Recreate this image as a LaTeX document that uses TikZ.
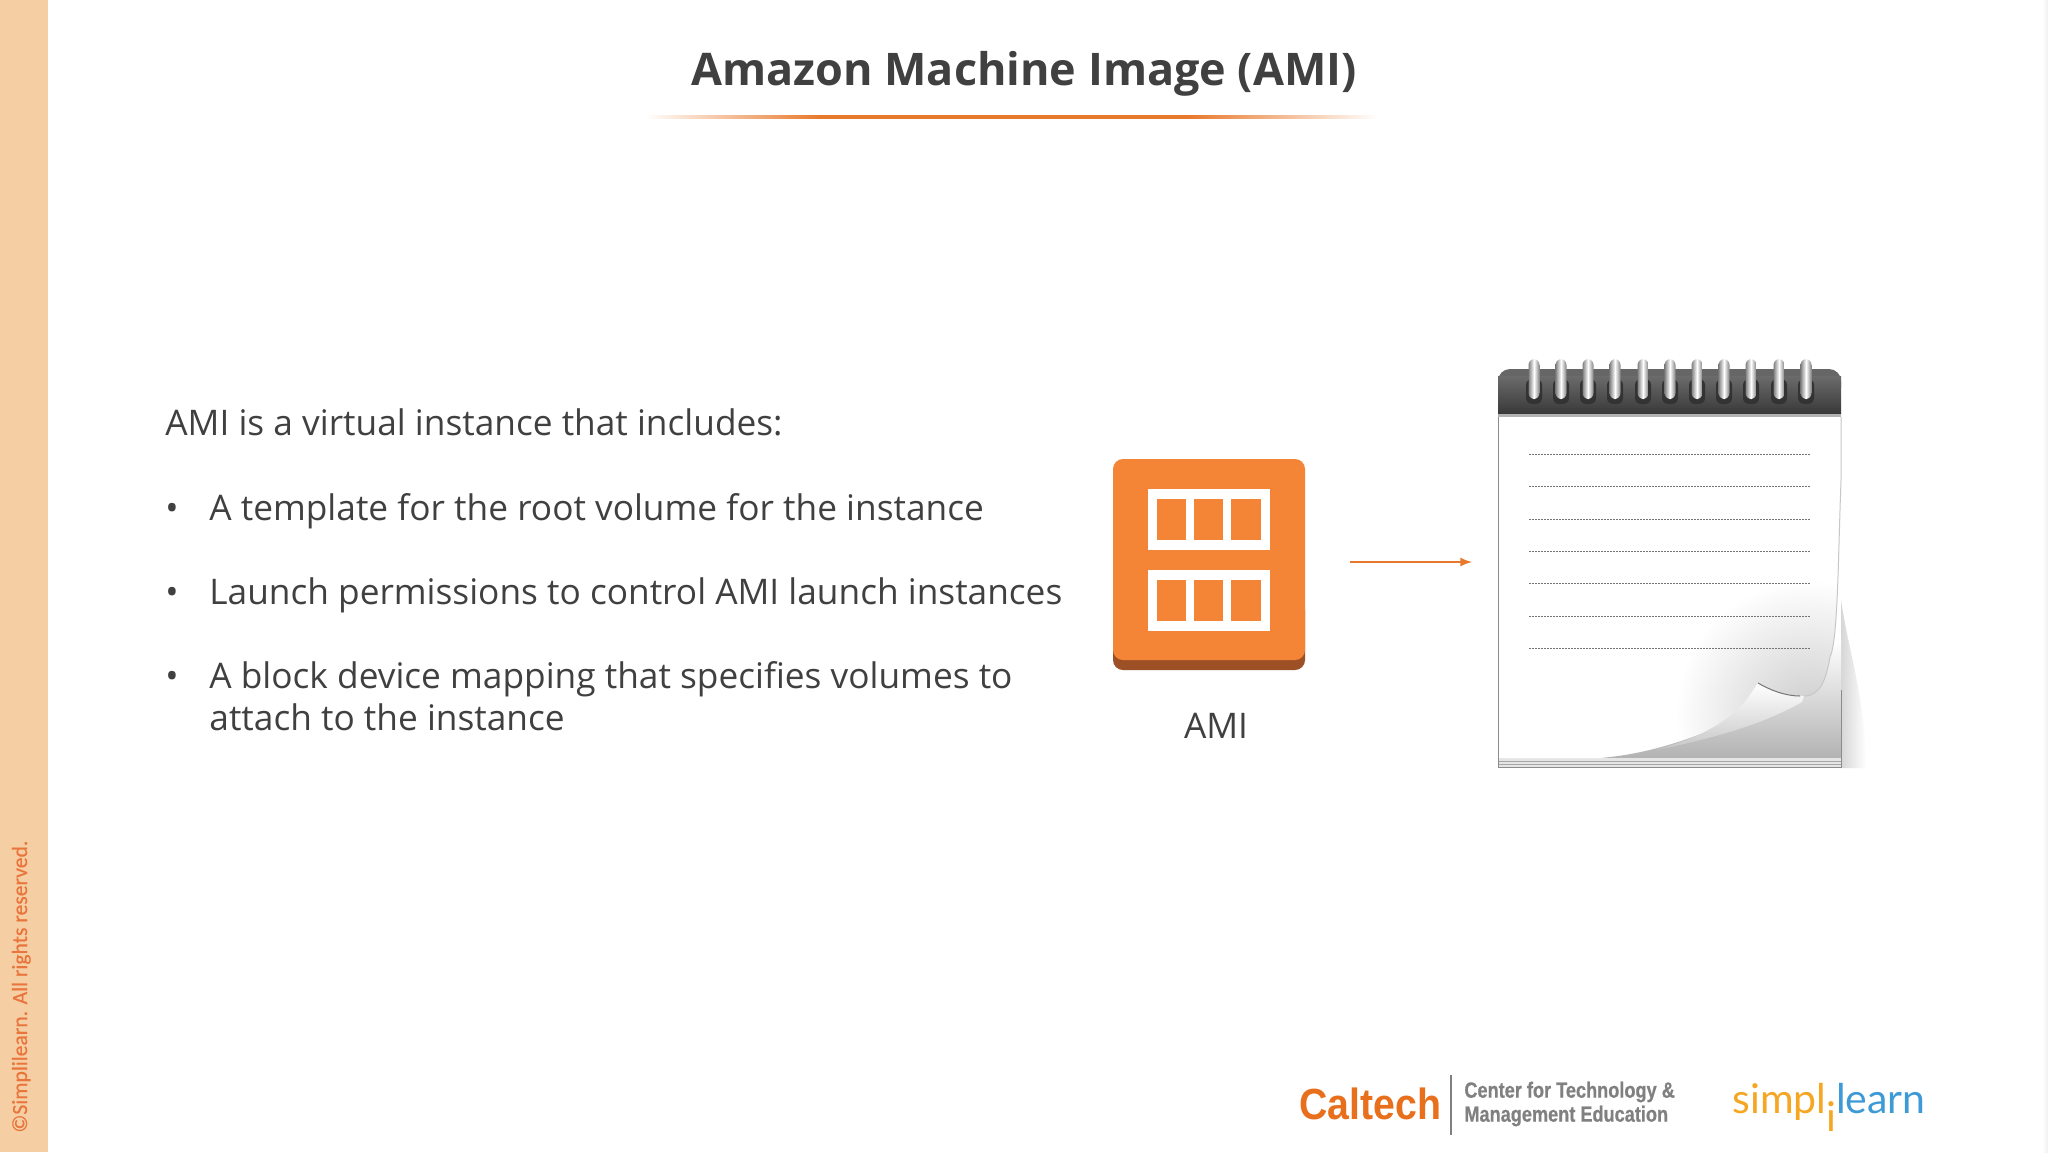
\documentclass[tikz,border=0pt]{standalone}
\usepackage{fontspec}
\setmainfont{Open Sans}
\newfontfamily\copyfont[FakeBold=0.4]{Carlito}
\newfontfamily\narrowfont[FakeStretch=0.825,FakeBold=0.6]{Liberation Sans}
\newfontfamily\caltechfont[FakeStretch=0.9]{Liberation Sans}
\newfontfamily\simplifont{Lato}
\usetikzlibrary{arrows}
\definecolor{bandorange}{HTML}{F5CFA3}
\definecolor{copyorange}{HTML}{E9743C}
\definecolor{ruleorange}{HTML}{E8782B}
\definecolor{amiorange}{HTML}{F58536}
\definecolor{amibrown}{HTML}{9D5025}
\definecolor{bodygray}{HTML}{404040}
\definecolor{logogray}{HTML}{808080}
\definecolor{caltechorange}{HTML}{E86F1C}
\definecolor{simpliyellow}{HTML}{F5A623}
\definecolor{simpliblue}{HTML}{3D9AD6}
\pgfdeclarehorizontalshading{rulefade}{100bp}{color(0bp)=(white);color(25bp)=(white);color(37bp)=(ruleorange);color(62bp)=(ruleorange);color(75bp)=(white);color(100bp)=(white)}
\tikzset{
    bodytext/.style={anchor=base west,inner sep=0pt,text=bodygray,font=\fontsize{17.63}{21}\selectfont},
    bullettext/.style={anchor=base,inner sep=0pt,text=bodygray,font=\fontsize{17.63}{21}\selectfont},
    logotext/.style={inner sep=0pt,text=logogray,font=\narrowfont\bfseries\fontsize{11}{12}\selectfont},
    amiframe/.style={fill=white},
    amicell/.style={fill=amiorange},
    dotline/.style={black!55,line width=0.5pt,dash pattern=on 0.75pt off 0.75pt},
    notering/.pic={
        \fill[black!80,rounded corners=3] (-8,20) rectangle (8,45);
        \shade[left color=black!50,right color=black!50,middle color=white,rounded corners=3] (-5.5,0) rectangle (5.5,40);
    }
}
\begin{document}
\begin{tikzpicture}[x=0.5pt,y=-0.5pt]
    \useasboundingbox (0,0) rectangle (2048,1152);
    \fill[white] (0,0) rectangle (2048,1152);
    \fill[bandorange] (0,0) rectangle (48,1152);
    \shade[left color=white,right color=black!6] (2042,0) rectangle (2048,1152);
    \node[rotate=90,anchor=base west,inner sep=0pt,text=copyorange,font=\copyfont\fontsize{10.8}{13}\selectfont] (copyright) at (27,1133) {©Simplilearn. All rights reserved.};

    \node[anchor=base,inner sep=0pt,text=bodygray,font=\bfseries\fontsize{22.47}{27}\selectfont] (title) at (1024,85) {Amazon Machine Image (AMI)};
    \shade[shading=rulefade] (645,115.5) rectangle (1378,118.5);

    \node[bodytext]   (intro)   at (165, 435) {AMI is a virtual instance that includes:};
    \node[bullettext] (bulleta) at (172, 520) {•};
    \node[bodytext]   (itema)   at (209, 520) {A template for the root volume for the instance};
    \node[bullettext] (bulletb) at (172, 604) {•};
    \node[bodytext]   (itemb)   at (209, 604) {Launch permissions to control AMI launch instances};
    \node[bullettext] (bulletc) at (172, 688) {•};
    \node[bodytext]   (itemc)   at (209, 688) {A block device mapping that specifies volumes to};
    \node[bodytext]   (itemd)   at (209, 730) {attach to the instance};

    \fill[amibrown,rounded corners=5]  (1113, 600) rectangle (1305, 670);
    \fill[amiorange,rounded corners=5] (1113, 459) rectangle (1305, 660);
    \fill[amiframe] (1148, 489) rectangle (1270, 550);
    \fill[amiframe] (1148, 570) rectangle (1270, 631);
    \fill[amicell]  (1157, 499) rectangle (1186, 540);
    \fill[amicell]  (1194, 499) rectangle (1223, 540);
    \fill[amicell]  (1231, 499) rectangle (1261, 540);
    \fill[amicell]  (1157, 580) rectangle (1186, 621);
    \fill[amicell]  (1194, 580) rectangle (1223, 621);
    \fill[amicell]  (1231, 580) rectangle (1261, 621);
    \node[anchor=base,inner sep=0pt,text=bodygray,font=\fontsize{17.63}{21}\selectfont] (amilabel) at (1216,738) {AMI};

    \coordinate (amiout) at (1350,562);
    \coordinate (padin)  at (1472,562);
    \draw[ruleorange,line width=1pt,-latex] (amiout) -- (padin);

    \shade[left color=black!16,right color=white] (1841,600) .. controls (1848,650) and (1866,700) .. (1866,768) -- (1841,768) -- cycle;
    \fill[white] (1498,417) rectangle (1841,767);
    \shade[shading angle=125,top color=white,bottom color=black!30] (1841,640) -- (1841,758) -- (1600,758) .. controls (1700,750) and (1800,690) .. cycle;
    \fill[black!10] (1498,758) rectangle (1841,767);
    \draw[black!35,line width=0.4pt] (1498,761) -- (1841,761);
    \draw[black!35,line width=0.4pt] (1498,764) -- (1841,764);
    \begin{scope}
        \clip (1498,417) -- (1841,417) -- (1841,480) .. controls (1838,560) and (1838,640) .. (1830,657) .. controls (1826,680) and (1820,696) .. (1804,696) .. controls (1785,696) and (1770,690) .. (1758,683) -- (1748,698) .. controls (1730,725) and (1700,740) .. (1600,758) -- (1498,758) -- cycle;
        \fill[white] (1498,417) rectangle (1841,767);
        \shade[inner color=black!20,outer color=white] (1810,715) circle (135);
    \end{scope}
    \shade[shading angle=150,top color=white,bottom color=black!22] (1758,683) .. controls (1770,690) and (1785,696) .. (1804,696) -- (1802,702) .. controls (1770,720) and (1730,735) .. (1656,750) .. controls (1710,735) and (1735,715) .. (1748,698) -- cycle;
    \draw[black!55,line width=0.5pt] (1758,683) .. controls (1770,690) and (1785,696) .. (1800,696);
    \draw[black!22,line width=0.5pt] (1841,417) -- (1841,480) .. controls (1838,560) and (1838,640) .. (1830,657) .. controls (1826,680) and (1820,696) .. (1804,696);
    \draw[black!45,line width=0.5pt] (1498,417) -- (1498,767) -- (1841,767) -- (1841,690);
    \fill[black!60,rounded corners=6] (1498,369) rectangle (1841,400);
    \shade[top color=black!58,bottom color=black!78] (1498,376) rectangle (1841,414);
    \fill[black!30] (1498,414) rectangle (1841,417);
    \draw[dotline] (1529, 454) -- (1811, 454);
    \draw[dotline] (1529, 486) -- (1811, 486);
    \draw[dotline] (1529, 519) -- (1811, 519);
    \draw[dotline] (1529, 551) -- (1811, 551);
    \draw[dotline] (1529, 583) -- (1811, 583);
    \draw[dotline] (1529, 616) -- (1811, 616);
    \draw[dotline] (1529, 648) -- (1811, 648);
    \pic at (1534, 359) {notering};
    \pic at (1561, 359) {notering};
    \pic at (1588, 359) {notering};
    \pic at (1615, 359) {notering};
    \pic at (1643, 359) {notering};
    \pic at (1670, 359) {notering};
    \pic at (1697, 359) {notering};
    \pic at (1724, 359) {notering};
    \pic at (1751, 359) {notering};
    \pic at (1779, 359) {notering};
    \pic at (1806, 359) {notering};

    \node[anchor=base west,inner sep=0pt,text=caltechorange,font=\caltechfont\bfseries\fontsize{21.8}{24}\selectfont] (caltech) at (1299,1119) {Caltech};
    \coordinate (bartop) at (1451,1075);
    \coordinate (barend) at (1451,1135);
    \draw[logogray,line width=0.8pt] (bartop) -- (barend);
    \node[logotext,anchor=west,align=left] (centerlines) at (1464,1104) {Center for Technology \&\\Management Education};
    \node[anchor=base west,inner sep=0pt,font=\simplifont\fontsize{20.5}{26}\selectfont] (simpli) at (1732,1113) {\textcolor{simpliyellow}{simpl\raisebox{-0.9ex}{i}}\textcolor{simpliblue}{learn}};
\end{tikzpicture}
\end{document}
